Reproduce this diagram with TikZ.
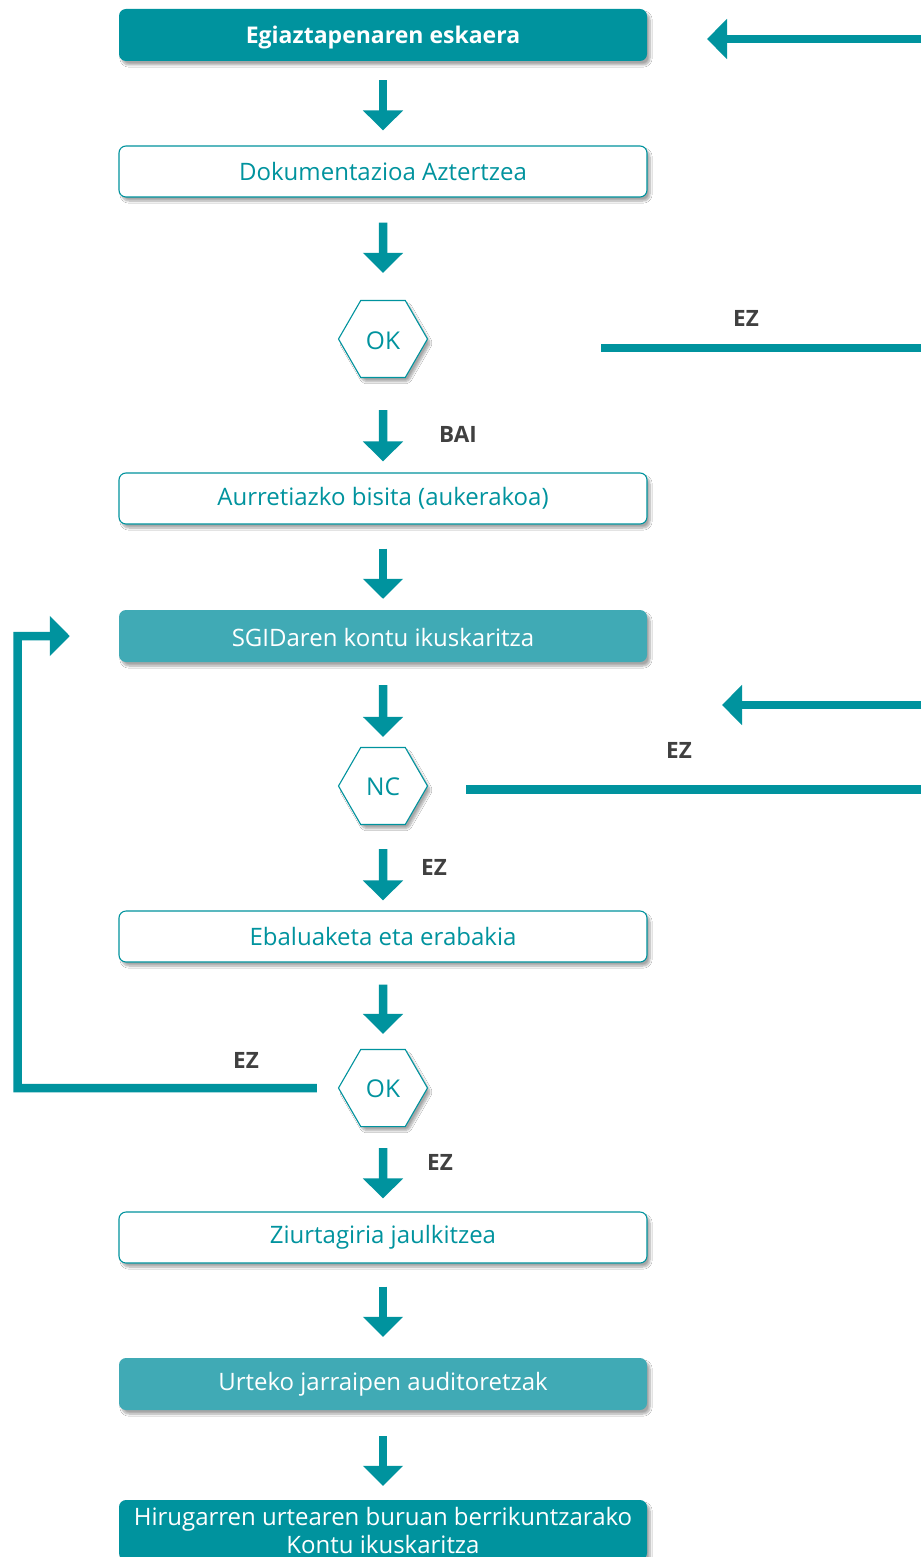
\documentclass[tikz,border=0pt]{standalone}
\usepackage{fontspec}
\setmainfont{Open Sans}
\usetikzlibrary{arrows.meta,shapes.geometric,shadows.blur}
\definecolor{tealdark}{RGB}{0,147,158}
\definecolor{teallight}{RGB}{64,170,181}
\definecolor{labelgray}{RGB}{64,64,64}
% lower a label inside its node without changing the node's size
\newcommand{\lowered}[2]{\raisebox{-#1}[\height][\depth]{#2}}
\tikzset{
  softshadow/.style={blur shadow={shadow xshift=3pt,shadow yshift=-4pt,shadow blur steps=8,shadow blur extra rounding=2pt,shadow opacity=35}},
  basebox/.style={rectangle,rounded corners=7pt,minimum width=528pt,inner sep=0pt,align=center,font=\fontsize{24}{28}\selectfont,softshadow},
  mainbox/.style={basebox,fill=tealdark,text=white},
  stagebox/.style={basebox,fill=teallight,text=white},
  stepbox/.style={basebox,fill=white,draw=tealdark,line width=1.1pt,text=tealdark},
  hexnode/.style={regular polygon,regular polygon sides=6,minimum size=89pt,inner sep=0pt,fill=white,draw=tealdark,line width=1.1pt,text=tealdark,font=\fontsize{24.5}{28}\selectfont,softshadow},
  flowarrow/.style={draw=tealdark,line width=8.5pt,-{Triangle[length=20pt,width=39pt]}},
  flowline/.style={draw=tealdark,line width=8.5pt,line cap=butt,line join=miter},
  answer/.style={text=labelgray,font=\fontsize{22.5}{26}\selectfont\bfseries}
}
\begin{document}
\begin{tikzpicture}[x=1pt,y=-1pt]
\useasboundingbox (0,0) rectangle (921,1557);
\fill[white] (0,0) rectangle (921,1557);

% process steps
\node[mainbox,minimum height=52pt,font=\fontsize{23}{28}\selectfont\bfseries] (req) at (383,35) {\lowered{3pt}{Egiaztapenaren eskaera}};
\node[stepbox,minimum height=51pt] (doc) at (383,171.5) {Dokumentazioa Aztertzea};
\node[hexnode] (ok1) at (383,339) {\lowered{1.5pt}{OK}};
\node[stepbox,minimum height=51pt] (visit) at (383,498.5) {Aurretiazko bisita (aukerakoa)};
\node[stagebox,minimum height=52pt] (audit) at (383,636) {\lowered{1.5pt}{SGIDaren kontu ikuskaritza}};
\node[hexnode] (nc) at (383,786) {\lowered{1pt}{NC}};
\node[stepbox,minimum height=51pt] (eval) at (383,936.5) {Ebaluaketa eta erabakia};
\node[hexnode] (ok2) at (383,1088) {\lowered{1pt}{OK}};
\node[stepbox,minimum height=51pt] (cert) at (383,1237.5) {Ziurtagiria jaulkitzea};
\node[stagebox,minimum height=52pt] (yearly) at (383,1384) {Urteko jarraipen auditoretzak};
\node[mainbox,minimum height=60pt] (renew) at (383,1530) {Hirugarren urtearen buruan berrikuntzarako\\Kontu ikuskaritza};

% downward flow
\draw[flowarrow,shorten <=19pt,shorten >=15pt] (req.south) -- (doc.north);
\draw[flowarrow,shorten <=25pt,shorten >=27pt] (doc.south) -- (ok1.north);
\draw[flowarrow,shorten <=32pt,shorten >=11pt] (ok1.south) -- (visit.north);
\draw[flowarrow,shorten <=24pt,shorten >=11pt] (visit.south) -- (audit.north);
\draw[flowarrow,shorten <=23pt,shorten >=10pt] (audit.south) -- (nc.north);
\draw[flowarrow,shorten <=24pt,shorten >=10pt] (nc.south) -- (eval.north);
\draw[flowarrow,shorten <=22pt,shorten >=15pt] (eval.south) -- (ok2.north);
\draw[flowarrow,shorten <=21pt,shorten >=13pt] (ok2.south) -- (cert.north);
\draw[flowarrow,shorten <=23pt,shorten >=21pt] (cert.south) -- (yearly.north);
\draw[flowarrow,shorten <=26pt,shorten >=14pt] (yearly.south) -- (renew.north);

% answer labels
\node[answer] (bai) at (458,434) {BAI};
\node[answer] (ez2) at (434,867) {EZ};
\node[answer] (ez4) at (440,1162) {EZ};

% branches leaving to the right margin
\coordinate (inA) at (921,39);
\coordinate (inAend) at (707,39);
\draw[flowarrow] (inA) -- (inAend);
\coordinate (outA) at (601,348);
\coordinate (outAend) at (921,348);
\draw[flowline] (outA) -- (outAend);
\node[answer] (ez1) at (746,318) {EZ};

\coordinate (inB) at (921,705);
\coordinate (inBend) at (722,705);
\draw[flowarrow] (inB) -- (inBend);
\coordinate (outB) at (466,789.5);
\coordinate (outBend) at (921,789.5);
\draw[flowline] (outB) -- (outBend);
\node[answer] (ez3) at (679,750) {EZ};

% loop back to the audit
\draw[flowline,-{Triangle[length=20pt,width=39pt]},shorten <=21pt,shorten >=49pt] (ok2.west) -- (17.5,1088) |- (audit.west);
\node[answer] (ez5) at (246,1060) {EZ};
\end{tikzpicture}
\end{document}
